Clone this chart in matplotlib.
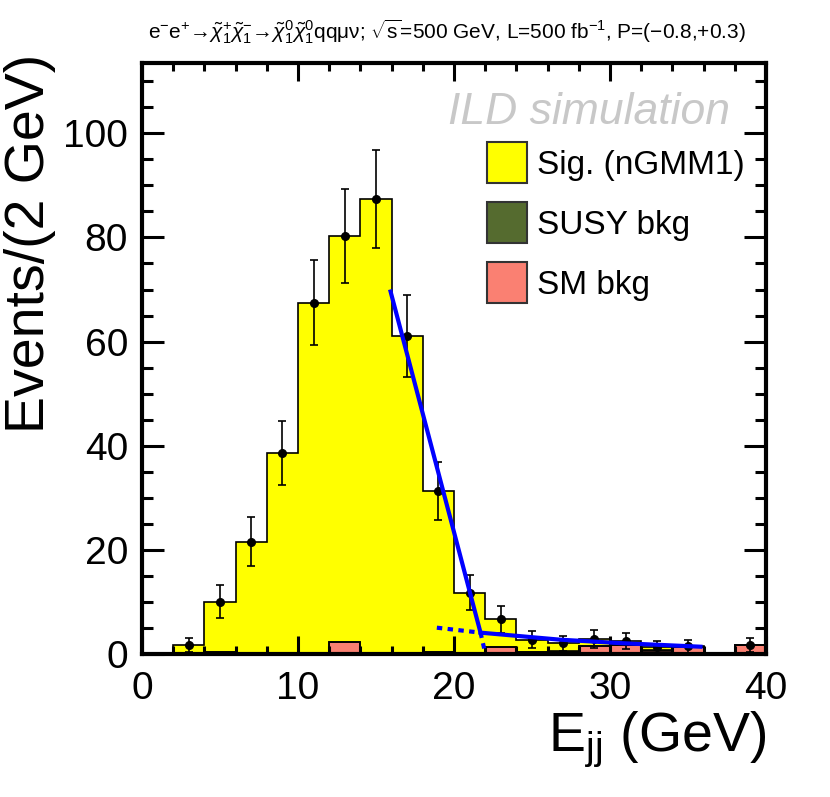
import numpy as np
import matplotlib
matplotlib.use("Agg")
import matplotlib.pyplot as plt
from matplotlib.patches import Patch
from matplotlib.ticker import MultipleLocator

plt.rcParams['font.family'] = ['Liberation Sans', 'DejaVu Sans']
plt.rcParams['mathtext.fontset'] = 'custom'
plt.rcParams['mathtext.rm'] = 'Liberation Sans'
plt.rcParams['mathtext.it'] = 'Liberation Sans:italic'
plt.rcParams['mathtext.bf'] = 'Liberation Sans:bold'

# ---- data ----
bin_edges = np.arange(0, 42, 2)
total_counts = [0, 1.8, 10.0, 21.6, 38.6, 67.5, 80.3, 87.4, 61.1, 31.3,
                11.8, 6.7, 2.7, 2.1, 2.9, 2.5, 1.3, 1.5, 0, 1.7]
susy_bkg = [0, 0, 0, 0, 0, 0, 0, 0, 0, 0,
            0, 0, 0, 0.2, 0, 0, 0.3, 0, 0, 0]
sm_bkg = [0, 0, 0.4, 0, 0, 0, 2.3, 0, 0, 0.4,
          0, 1.4, 0.4, 0.3, 1.5, 1.7, 0.5, 1.4, 0, 1.7]

fit_steep_x = [15.9, 21.7]
fit_steep_y = [70.0, 4.1]
fit_steep_ext_x = [21.7, 22.0]
fit_steep_ext_y = [4.1, 0.2]
fit_tail_x = [21.7, 26.8, 30.6, 35.8]
fit_tail_y = [4.1, 2.75, 2.1, 1.4]
fit_tail_ext_x = [18.9, 21.7]
fit_tail_ext_y = [5.05, 4.1]

labels = ["Sig. (nGMM1)", "SUSY bkg", "SM bkg"]
colors = ["#ffff00", "#556b2f", "#fa8072"]

total = np.array(total_counts)
sm = np.array(sm_bkg)
susy = np.array(susy_bkg)
centers = 0.5 * (bin_edges[:-1] + bin_edges[1:])

fig = plt.figure(figsize=(8.30, 7.97), dpi=100)
ax = fig.add_axes([142/830, 143/797, 624/830, 591/797])

# stacked histogram, ROOT style
layers = [(total, colors[0]), (sm + susy, colors[1]), (sm, colors[2])]
for vals, col in layers:
    ax.stairs(vals, bin_edges, fill=True, color=col, zorder=1)
    ax.stairs(vals, bin_edges, color='black', lw=1.2, zorder=2)

# data points
mask = total > 0
ax.errorbar(centers[mask], total[mask], yerr=np.sqrt(total[mask]), fmt='o',
            color='black', ms=5.5, lw=1.2, capsize=3, capthick=1.2, zorder=4)

# fit lines
ax.plot(fit_steep_x, fit_steep_y, color='#0000ff', lw=3, zorder=5, solid_capstyle='butt')
ax.plot(fit_tail_x, fit_tail_y, color='#0000ff', lw=3, zorder=5)
ax.plot(fit_steep_ext_x, fit_steep_ext_y, color='#0000ff', lw=3, ls=(0, (1.3, 1.3)), zorder=5)
ax.plot(fit_tail_ext_x, fit_tail_ext_y, color='#0000ff', lw=3, ls=(0, (1.3, 1.3)), zorder=5)

ax.set_xlim(0, 40)
ax.set_ylim(0, 113.5)
ax.xaxis.set_major_locator(MultipleLocator(10))
ax.xaxis.set_minor_locator(MultipleLocator(2))
ax.yaxis.set_major_locator(MultipleLocator(20))
ax.yaxis.set_minor_locator(MultipleLocator(5))
ax.tick_params(axis='both', which='both', direction='in', top=True, right=True, width=2.2)
ax.tick_params(axis='x', which='major', length=13, labelsize=28, pad=12)
ax.tick_params(axis='x', which='minor', length=6)
ax.tick_params(axis='y', which='major', length=16, labelsize=28, pad=10)
ax.tick_params(axis='y', which='minor', length=8)
for s in ax.spines.values():
    s.set_linewidth(3)
    s.set_zorder(6)

ax.set_xlabel(r"E$_{\rm jj}$ (GeV)", fontsize=40, ha='right', x=1.0, labelpad=2)
fig.text(30/830, 1 - 54/797, "Events/(2 GeV)", rotation=90, fontsize=40,
         ha='center', va='top')

fig.text(447/830, 1 - 32/797,
         r"e$^{-}$e$^{+}$→$\tilde{\chi}^{+}_{1}\tilde{\chi}^{-}_{1}$→"
         r"$\tilde{\chi}^{0}_{1}\tilde{\chi}^{0}_{1}$qqμν; $\sqrt{\rm s}$=500 GeV, "
         r"L=500 fb$^{-1}$, P=(−0.8,+0.3)",
         fontsize=15, ha='center', va='center')

ax.text(0.942, 0.897, "ILD simulation", transform=ax.transAxes, fontsize=32,
        style='italic', color='#c8c8c8', ha='right', va='baseline')

handles = [Patch(facecolor=c, edgecolor='#333333', lw=1.5) for c in colors]
ax.legend(handles, labels, loc='upper left', bbox_to_anchor=(0.553, 0.866),
          frameon=False, fontsize=24, handlelength=1.2, handleheight=1.5,
          handletextpad=0.3, labelspacing=0.58, borderpad=0, borderaxespad=0)

fig.savefig("out.png", dpi=100)
